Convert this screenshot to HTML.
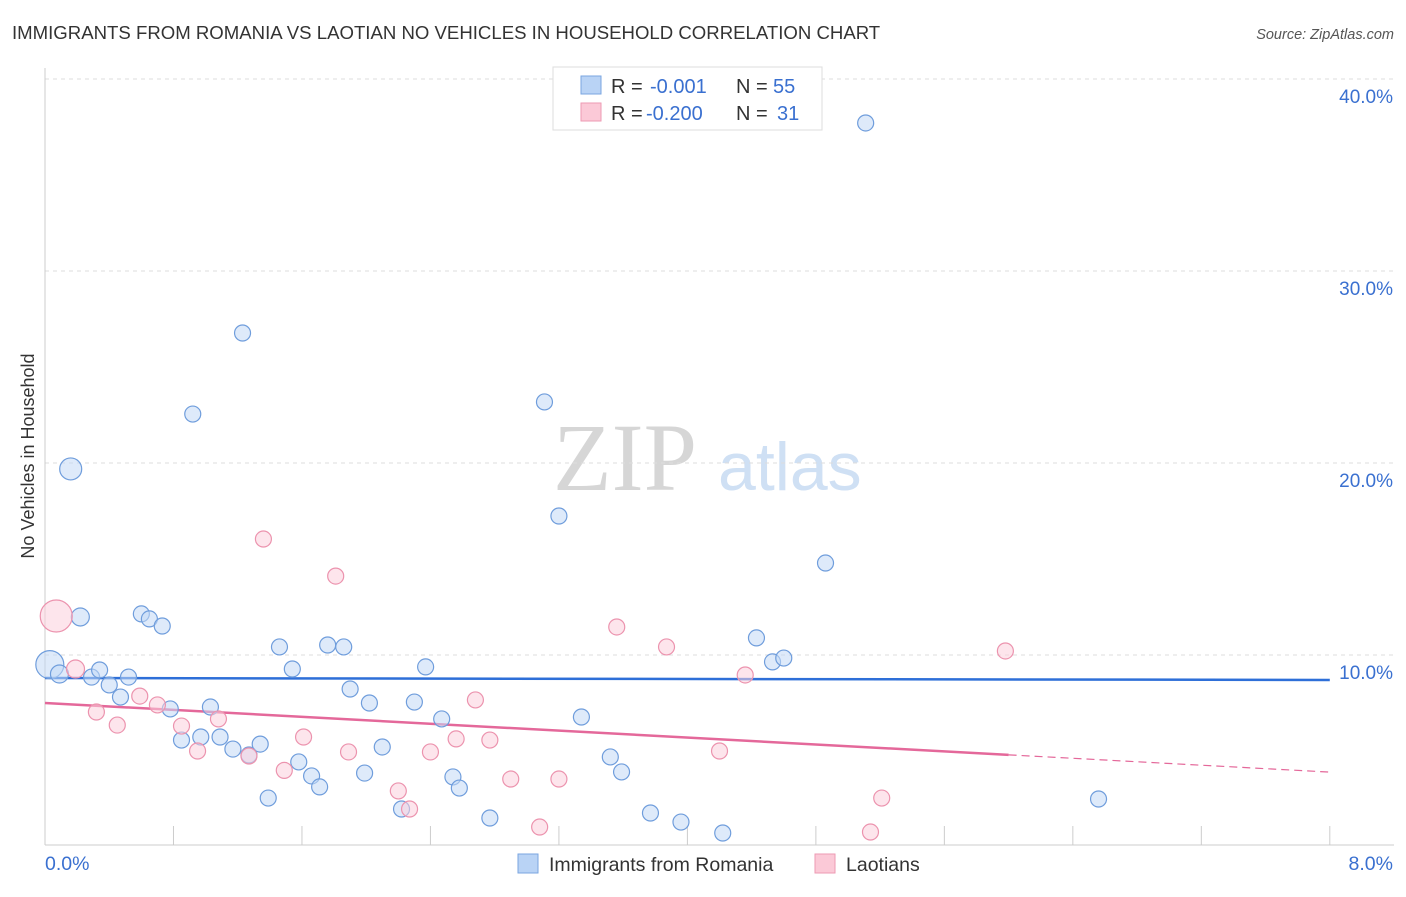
<!DOCTYPE html>
<html><head><meta charset="utf-8"><style>
body{margin:0;background:#fff;font-family:"Liberation Sans",sans-serif;}
svg text{font-family:"Liberation Sans",sans-serif;}
</style></head><body>
<svg id="chart" width="1406" height="892" xmlns="http://www.w3.org/2000/svg">
<text x="12" y="39" font-size="18.6" fill="#333">IMMIGRANTS FROM ROMANIA VS LAOTIAN NO VEHICLES IN HOUSEHOLD CORRELATION CHART</text>
<text x="1394" y="39" font-size="14.5" fill="#555" text-anchor="end" font-style="italic">Source: ZipAtlas.com</text>
<g>
<text x="553" y="490" font-size="96" fill="#d6d6d6" style="font-family:'Liberation Serif',serif">ZIP</text>
<text x="718" y="490" font-size="68" fill="#cfe0f4">atlas</text>
</g>
<g id="grid"></g>
<g id="axes"></g>
<g id="trend"></g>
<g id="points"></g>
<text transform="translate(34,456) rotate(-90)" font-size="18" fill="#333" text-anchor="middle">No Vehicles in Household</text>
<g>
<rect x="553" y="67" width="269" height="63" fill="#fff" stroke="#ddd"/>
<rect x="581" y="76" width="20" height="18" fill="#b9d3f5" stroke="#7aa6e0"/>
<rect x="581" y="103" width="20" height="18" fill="#fbc9d7" stroke="#ee9ab3"/>
<g font-size="20" fill="#333">
<text x="611" y="93">R =</text><text x="650" y="93" fill="#3a70d0">-0.001</text>
<text x="736" y="93">N =</text><text x="773" y="93" fill="#3a70d0">55</text>
<text x="611" y="120">R =</text><text x="646" y="120" fill="#3a70d0">-0.200</text>
<text x="736" y="120">N =</text><text x="777" y="120" fill="#3a70d0">31</text>
</g>
</g>
<g>
<rect x="518" y="854" width="20" height="19" fill="#b9d3f5" stroke="#7aa6e0"/>
<text x="549" y="871" font-size="19.5" fill="#333">Immigrants from Romania</text>
<rect x="815" y="854" width="20" height="19" fill="#fbc9d7" stroke="#ee9ab3"/>
<text x="846" y="871" font-size="19.5" fill="#333">Laotians</text>
</g>
</svg>
<script>
const blueX=[0.03,0.09,0.16,0.22,0.29,0.34,0.40,0.47,0.52,0.60,0.65,0.73,0.78,0.85,0.92,0.97,1.03,1.09,1.17,1.23,1.27,1.34,1.39,1.46,1.54,1.58,1.66,1.71,1.76,1.86,1.90,1.99,2.02,2.10,2.22,2.30,2.37,2.47,2.54,2.58,2.77,3.11,3.20,3.34,3.52,3.59,3.77,3.96,4.22,4.43,4.53,4.60,4.86,5.11,6.56];
const blueY=[9.5,9.01,19.69,11.98,8.85,9.22,8.44,7.81,8.85,12.14,11.88,11.51,7.19,5.57,22.55,5.73,7.29,5.73,5.10,26.77,4.79,5.36,2.55,10.42,9.27,4.43,3.70,3.13,10.52,10.42,8.23,3.85,7.50,5.21,1.98,7.55,9.38,6.67,3.65,3.07,1.51,23.18,17.24,6.77,4.69,3.91,1.77,1.30,0.73,10.89,9.64,9.84,14.79,37.71,2.50];
const blueR=[14,9,11,9,8,8,8,8,8,8,8,8,8,8,8,8,8,8,8,8,8,8,8,8,8,8,8,8,8,8,8,8,8,8,8,8,8,8,8,8,8,8,8,8,8,8,8,8,8,8,8,8,8,8,8];
const pinkX=[0.07,0.19,0.32,0.45,0.59,0.70,0.85,0.95,1.08,1.27,1.36,1.49,1.61,1.81,1.89,2.20,2.27,2.40,2.56,2.68,2.77,2.90,3.08,3.20,3.56,3.87,4.20,4.36,5.14,5.21,5.98];
const pinkY=[12.03,9.27,7.03,6.35,7.86,7.40,6.30,5.00,6.67,4.74,16.04,3.99,5.73,14.11,4.95,2.92,1.98,4.95,5.63,7.66,5.57,3.54,1.04,3.54,11.46,10.42,5.00,8.96,0.78,2.55,10.21];
const pinkR=[16,9,8,8,8,8,8,8,8,8,8,8,8,8,8,8,8,8,8,8,8,8,8,8,8,8,8,8,8,8,8];
const yTicks=[10,20,30,40];
const yTickLabels=["10.0%","20.0%","30.0%","40.0%"];
const blueTrend=[8.8,8.7];
const pinkTrend=[7.5,3.9];
const pinkSolidEnd=6.0;
const NS="http://www.w3.org/2000/svg";
const sx=v=>45+v*160.6, sy=v=>847-v*19.2;
function mk(t,a,p){const e=document.createElementNS(NS,t);for(const k in a)e.setAttribute(k,a[k]);p.appendChild(e);return e;}
const grid=document.getElementById('grid'),axes=document.getElementById('axes'),pts=document.getElementById('points'),tr=document.getElementById('trend');
yTicks.forEach((t,i)=>{
 const l=mk('line',{x1:45,x2:1394,y1:sy(t),y2:sy(t),stroke:'#ddd','stroke-dasharray':'4,4'},grid);
 
 
 const tx=mk('text',{x:1393,y:sy(t)+24,'font-size':19,fill:'#3a70d0','text-anchor':'end'},axes);
 tx.textContent=yTickLabels[i];
 
 
});
mk('line',{x1:45,x2:45,y1:68,y2:845,stroke:'#ccc'},axes);
mk('line',{x1:45,x2:1394,y1:845,y2:845,stroke:'#ccc'},axes);
for(let i=0;i<=10;i++){const t=mk('line',{x1:sx(i*0.8),x2:sx(i*0.8),y1:826,y2:845,stroke:'#ccc'},axes);
 
 }
const x0=mk('text',{x:45,y:870,'font-size':19.5,fill:'#3a70d0'},axes);x0.textContent='0.0%';
const x1=mk('text',{x:1393,y:870,'font-size':19.5,fill:'#3a70d0','text-anchor':'end'},axes);x1.textContent='8.0%';
function draw(X,Y,R,fill,stroke,name){X.forEach((x,i)=>{const c=mk('circle',{cx:sx(x),cy:sy(Y[i]),r:R[i],fill:fill,stroke:stroke,'stroke-width':1.2,'fill-opacity':0.55},pts);
 
 });}
draw(blueX,blueY,blueR,'#c2d8f5','#6f9ddc','romania-point');
draw(pinkX,pinkY,pinkR,'#fbd0dc','#ec93ae','laotian-point');
mk('line',{x1:sx(0),x2:sx(8),y1:sy(blueTrend[0]),y2:sy(blueTrend[1]),stroke:'#2e6fd8','stroke-width':2.5},tr);
const pm=pinkTrend[0]+(pinkTrend[1]-pinkTrend[0])*pinkSolidEnd/8;
mk('line',{x1:sx(0),x2:sx(pinkSolidEnd),y1:sy(pinkTrend[0]),y2:sy(pm),stroke:'#e4689a','stroke-width':2.5},tr);
mk('line',{x1:sx(pinkSolidEnd),x2:sx(8),y1:sy(pm),y2:sy(pinkTrend[1]),stroke:'#e4689a','stroke-width':1.2,'stroke-dasharray':'8,5'},tr);
</script>
</body></html>
